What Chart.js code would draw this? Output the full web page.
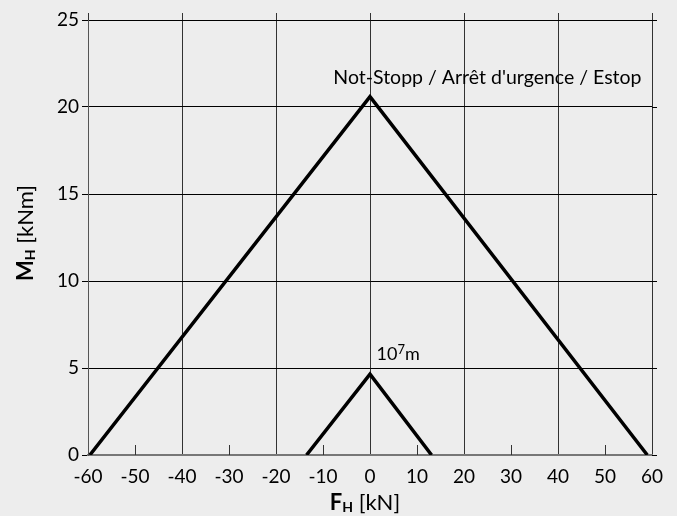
<!DOCTYPE html>
<html>
<head>
<meta charset="utf-8">
<script src="https://cdn.jsdelivr.net/npm/chart.js@4/dist/chart.umd.min.js"></script>
<style>
  html, body { margin: 0; background: #ededed; }
  #wrap { width: 677px; height: 516px; }
</style>
</head>
<body>
<div id="wrap"><canvas id="chart"></canvas></div>
<script>
// data
const emergencyX = [-59.6, 0, 59.0];
const emergencyY = [0, 20.6, 0];
const smallX = [-13.5, 0, 13.1];
const smallY = [0, 4.65, 0];
const xTickValues = [-60, -50, -40, -30, -20, -10, 0, 10, 20, 30, 40, 50, 60];
const yTickValues = [0, 5, 10, 15, 20, 25];
const bigLabel = "Not-Stopp / Arrêt d'urgence / Estop";

const FONT = 'Lato, "Open Sans", sans-serif';

const toPoints = (xs, ys) => xs.map((x, i) => ({ x, y: ys[i] }));

// extra grid bits + axis titles and labels
const decorations = {
  id: 'decorations',
  beforeDatasetsDraw(chart) {
    const { ctx, chartArea: a, scales: { x, y } } = chart;
    ctx.save();
    ctx.lineWidth = 1;
    // short ticks at odd tens
    ctx.strokeStyle = '#333';
    xTickValues.filter(v => v % 20 !== 0).forEach(v => {
      const px = Math.round(x.getPixelForValue(v)) + 0.5;
      ctx.beginPath();
      ctx.moveTo(px, a.bottom);
      ctx.lineTo(px, a.bottom - 10);
      ctx.stroke();
    });
    // vertical lines stick out above the top
    xTickValues.filter(v => v % 20 === 0).forEach(v => {
      const px = Math.round(x.getPixelForValue(v)) + 0.5;
      ctx.beginPath();
      ctx.moveTo(px, a.top - 7);
      ctx.lineTo(px, a.top);
      ctx.stroke();
    });
    // horizontal lines stick out on the right
    ctx.strokeStyle = '#000';
    yTickValues.forEach(v => {
      const py = Math.round(y.getPixelForValue(v)) + 0.5;
      ctx.beginPath();
      ctx.moveTo(a.right, py);
      ctx.lineTo(a.right + 5, py);
      ctx.stroke();
    });
    ctx.restore();
  },
  afterDraw(chart) {
    const { ctx, scales: { x, y } } = chart;
    ctx.save();
    ctx.fillStyle = '#000';
    ctx.textBaseline = 'alphabetic';

    // curve labels
    ctx.font = '19.5px ' + FONT;
    ctx.textAlign = 'left';
    ctx.fillText(bigLabel, x.getPixelForValue(-7.8), y.getPixelForValue(21.3));
    let lx = x.getPixelForValue(1.4);
    const ly = y.getPixelForValue(5.45);
    ctx.font = '18px ' + FONT;
    ctx.fillText('10', lx, ly);
    lx += ctx.measureText('10').width;
    ctx.font = '13px ' + FONT;
    ctx.fillText('7', lx, ly - 6);
    lx += ctx.measureText('7').width;
    ctx.font = '18px ' + FONT;
    ctx.fillText('m', lx, ly);

    // x title: F_H [kN]
    const parts = [
      { t: 'F', f: 'bold 22px ' + FONT, dy: 0 },
      { t: 'H', f: 'bold 14px ' + FONT, dy: 2 },
      { t: ' [kN]', f: '22px ' + FONT, dy: 0 }
    ];
    const drawParts = (cx, cy) => {
      let w = 0;
      parts.forEach(p => { ctx.font = p.f; w += ctx.measureText(p.t).width; });
      let px = cx - w / 2;
      parts.forEach(p => {
        ctx.font = p.f;
        ctx.fillText(p.t, px, cy + p.dy);
        px += ctx.measureText(p.t).width;
      });
    };
    drawParts(365, 510);

    // y title: M_H [kNm]
    parts[0].t = 'M';
    parts[2].t = ' [kNm]';
    ctx.translate(33, 233);
    ctx.rotate(-Math.PI / 2);
    drawParts(0, 0);
    ctx.restore();
  }
};

new Chart(document.getElementById('chart'), {
  type: 'scatter',
  data: {
    datasets: [
      {
        data: toPoints(emergencyX, emergencyY),
        showLine: true,
        borderColor: '#000',
        borderWidth: 3.5,
        pointRadius: 0,
        tension: 0
      },
      {
        data: toPoints(smallX, smallY),
        showLine: true,
        borderColor: '#000',
        borderWidth: 3.5,
        pointRadius: 0,
        tension: 0
      }
    ]
  },
  options: {
    responsive: true,
    maintainAspectRatio: false,
    animation: false,
    layout: { padding: { left: 0, right: 25, top: 20, bottom: 0 } },
    plugins: {
      legend: { display: false },
      tooltip: { enabled: false }
    },
    scales: {
      x: {
        type: 'linear',
        min: -60,
        max: 60,
        afterBuildTicks: s => { s.ticks = xTickValues.map(v => ({ value: v })); },
        afterFit: s => { s.height = 61; },
        ticks: {
          color: '#000',
          font: { family: FONT, size: 19 },
          padding: 10,
          maxRotation: 0
        },
        grid: {
          drawTicks: false,
          color: c => (c.tick && c.tick.value % 20 === 0) ? '#333' : 'rgba(0,0,0,0)',
          lineWidth: 1
        },
        border: { display: true, color: '#777', width: 2 }
      },
      y: {
        min: 0,
        max: 25,
        afterBuildTicks: s => { s.ticks = yTickValues.map(v => ({ value: v })); },
        afterFit: s => { s.width = 88; },
        ticks: {
          color: '#000',
          font: { family: FONT, size: 19 },
          padding: 3
        },
        grid: {
          color: '#000',
          lineWidth: 1,
          tickLength: 6
        },
        border: { display: true, color: '#555', width: 1 }
      }
    }
  },
  plugins: [decorations]
});
</script>
</body>
</html>
